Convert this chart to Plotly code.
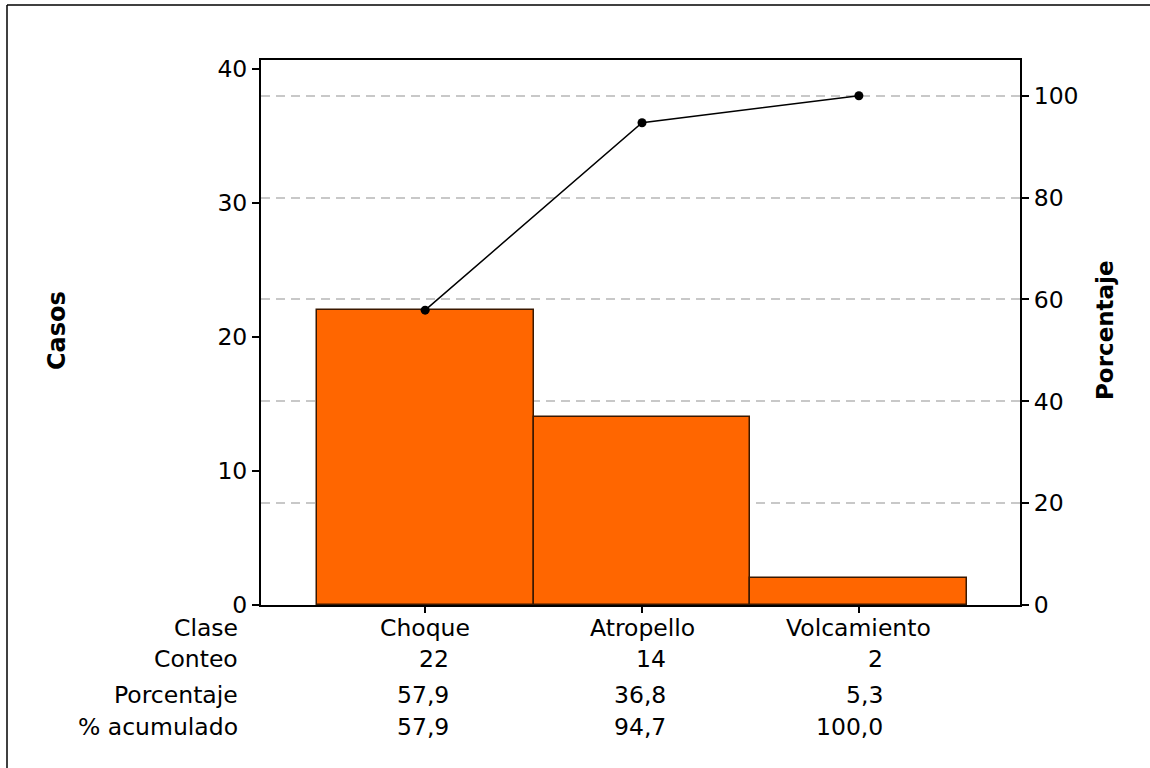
import plotly.graph_objects as go

categories = ["Choque", "Atropello", "Volcamiento"]
counts = [22, 14, 2]
percent = [57.9, 36.8, 5.3]
cum_percent = [57.9, 94.7, 100.0]
row_labels = ["Clase", "Conteo", "Porcentaje", "% acumulado"]
left_ticks = [0, 10, 20, 30, 40]
right_ticks = [0, 20, 40, 60, 80, 100]

FONT = "DejaVu Sans"
FS = 23.5
W, H = 1150, 768
L, R, T, B = 261, 130, 60, 163
PW, PH = W - L - R, H - T - B

def xp(px):
    return (px - L) / PW

def yp(py):
    return (T + PH - py) / PH

def fmt(v):
    return f"{v:.1f}".replace(".", ",")

total = sum(counts)
left_max = 40.67
right_max = left_max / total * 100

fig = go.Figure()
fig.add_trace(go.Bar(
    x=list(range(len(categories))), y=counts, width=1.0,
    marker=dict(color="#FF6600", line=dict(color="#3a1800", width=1.5)),
    yaxis="y", showlegend=False,
))
fig.add_trace(go.Scatter(
    x=list(range(len(categories))), y=cum_percent, mode="lines+markers",
    line=dict(color="black", width=1.5),
    marker=dict(color="black", size=9),
    yaxis="y2", showlegend=False,
))

annotations = []
# Axis titles
annotations.append(dict(text="<b>Casos</b>", x=xp(57), y=yp(331), xref="paper", yref="paper",
                        xanchor="center", yanchor="middle",
                        textangle=-90, showarrow=False, font=dict(family=FONT, size=24, color="black")))
annotations.append(dict(text="<b>Porcentaje</b>", x=xp(1105), y=yp(330), xref="paper", yref="paper",
                        xanchor="center", yanchor="middle",
                        textangle=-90, showarrow=False, font=dict(family=FONT, size=23, color="black")))
# Table row labels
row_y = [628, 659, 695, 727]
for lab, ry in zip(row_labels, row_y):
    annotations.append(dict(text=lab, x=xp(240), y=yp(ry), xref="paper", yref="paper",
                            xanchor="right", yanchor="middle", showarrow=False,
                            font=dict(family=FONT, size=FS, color="black")))
# Category names (Clase row)
for i, c in enumerate(categories):
    annotations.append(dict(text=c, x=i, y=yp(row_y[0]), xref="x", yref="paper",
                            xanchor="center", yanchor="middle", showarrow=False,
                            font=dict(family=FONT, size=FS, color="black")))
# Table values
rows = [[str(c) for c in counts], [fmt(p) for p in percent], [fmt(c) for c in cum_percent]]
for r_i, vals in enumerate(rows):
    for i, v in enumerate(vals):
        annotations.append(dict(text=v, x=i, y=yp(row_y[r_i + 1]), xref="x", yref="paper",
                                xanchor="right", yanchor="middle", xshift=26, showarrow=False,
                                font=dict(family=FONT, size=FS, color="black")))

shapes = [
    dict(type="line", xref="paper", yref="paper", x0=xp(7), x1=xp(7), y0=yp(5), y1=-1,
         line=dict(color="black", width=1.5)),
    dict(type="line", xref="paper", yref="paper", x0=xp(7), x1=2, y0=yp(5), y1=yp(5),
         line=dict(color="black", width=1.5)),
]

fig.update_layout(
    width=W, height=H,
    margin=dict(l=L, r=R, t=T, b=B),
    paper_bgcolor="white", plot_bgcolor="white",
    font=dict(family=FONT, size=FS, color="black"),
    bargap=0,
    xaxis=dict(
        range=[-0.757, 2.743], tickmode="array", tickvals=list(range(len(categories))),
        showticklabels=False, ticks="outside", ticklen=6, tickwidth=1.5, tickcolor="black",
        showline=True, linecolor="black", linewidth=2, mirror=True,
        showgrid=False, zeroline=False,
    ),
    yaxis=dict(
        range=[0, left_max], tickmode="array", tickvals=left_ticks,
        ticks="outside", ticklen=7, tickwidth=1.5, tickcolor="black",
        showline=True, linecolor="black", linewidth=2,
        showgrid=False, zeroline=False,
        tickfont=dict(family=FONT, size=FS, color="black"),
    ),
    yaxis2=dict(
        range=[0, right_max], tickmode="array", tickvals=right_ticks,
        overlaying="y", side="right",
        ticks="outside", ticklen=7, tickwidth=1.5, tickcolor="black",
        showline=True, linecolor="black", linewidth=2,
        showgrid=True, gridcolor="#c8c8c8", gridwidth=1.5, griddash="9px,6px",
        zeroline=False,
        tickfont=dict(family=FONT, size=FS, color="black"),
    ),
    annotations=annotations,
    shapes=shapes,
)

fig.write_html("out.html", config={"displayModeBar": False},
               post_script="document.body.style.margin='0px';")
